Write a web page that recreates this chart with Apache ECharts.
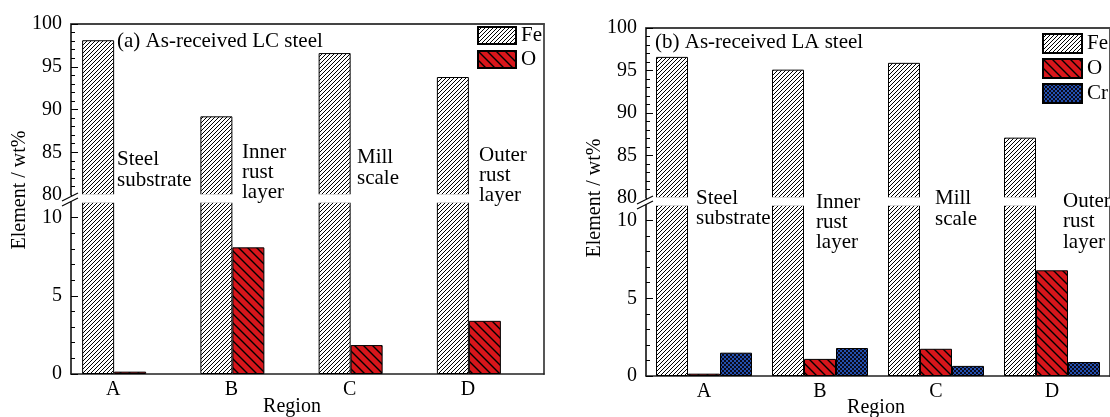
<!DOCTYPE html>
<html><head><meta charset="utf-8">
<script src="https://cdn.jsdelivr.net/npm/echarts@6/dist/echarts.min.js"></script>
<style>html,body{margin:0;padding:0;background:#fff}#c{width:1110px;height:417px}</style>
</head><body><div id="c"></div>
<script>
// ---- data ----
const regions = ['A', 'B', 'C', 'D'];
const lcFe = [98.1, 89.2, 96.6, 93.8];
const lcO  = [0.15, 8.1, 1.85, 3.4];
const lcCr = [null, null, null, null]; // Cr not present in LC steel
const laFe = [96.6, 95.1, 95.9, 87.1];
const laO  = [0.15, 1.1, 1.75, 6.8];
const laCr = [1.5, 1.8, 0.65, 0.9];
const upperMajorTicks = [80, 85, 90, 95, 100];
const upperMinorTicks = [81, 82, 83, 84, 86, 87, 88, 89, 91, 92, 93, 94, 96, 97, 98, 99];
const lowerMajorTicks = [0, 5, 10];
const lowerMinorTicks = [1, 2, 3, 4, 6, 7, 8, 9];
const lcNotes = [['Steel', 'substrate'], ['Inner', 'rust', 'layer'], ['Mill', 'scale'], ['Outer', 'rust', 'layer']];
const laNotes = lcNotes;
const breakLow = 11, breakHigh = 80;

// ---- patterns ----
function tile(w, h, draw) { const c = document.createElement('canvas'); c.width = w; c.height = h; draw(c.getContext('2d')); return { image: c, repeat: 'repeat' }; }
const fePat = tile(4, 4, g => {
  g.fillStyle = '#fff'; g.fillRect(0, 0, 4, 4);
  g.strokeStyle = '#000'; g.lineWidth = 1.0;
  g.beginPath(); g.moveTo(-1, 5); g.lineTo(5, -1); g.moveTo(-1, 1); g.lineTo(1, -1); g.moveTo(3, 5); g.lineTo(5, 3); g.stroke();
});
const oPat = tile(9, 9, g => {
  g.fillStyle = '#d8161b'; g.fillRect(0, 0, 9, 9);
  g.strokeStyle = '#000'; g.lineWidth = 1.4;
  g.beginPath(); g.moveTo(-1, -1); g.lineTo(10, 10); g.moveTo(-1, 8); g.lineTo(1, 10); g.moveTo(8, -1); g.lineTo(10, 1); g.stroke();
});
const crPat = tile(4, 4, g => {
  g.fillStyle = '#2350b0'; g.fillRect(0, 0, 4, 4);
  g.fillStyle = '#0a0a1a'; g.fillRect(0, 0, 2, 2); g.fillRect(2, 2, 2, 2);
});

const FONT = 'Liberation Serif';
const upper = arr => arr.map(v => (v != null && v > breakHigh) ? v : null);

function yAxes(grid, min, max, major, minor) {
  return [
    { gridIndex: grid, type: 'value', min, max, position: 'left',
      axisLine: { show: true, onZero: false, lineStyle: { color: '#000', width: 1.5 } },
      axisTick: { show: true, inside: true, length: 7, customValues: major, lineStyle: { color: '#000', width: 1 } },
      axisLabel: { customValues: major, margin: 9, color: '#000', fontSize: 20, fontFamily: FONT },
      splitLine: { show: false } },
    { gridIndex: grid, type: 'value', min, max, position: 'left', offset: 0,
      axisLine: { show: false, onZero: false },
      axisTick: { show: true, inside: true, length: 4, customValues: minor, lineStyle: { color: '#000', width: 1 } },
      axisLabel: { show: false }, splitLine: { show: false } }
  ];
}
function frameAxes(grid) {
  return {
    x: { gridIndex: grid, type: 'value', min: 0, max: 1, position: 'top',
      axisLine: { show: true, onZero: false, lineStyle: { color: '#444', width: 1.8 } },
      axisTick: { show: false }, axisLabel: { show: false }, splitLine: { show: false } },
    y: { gridIndex: grid, type: 'value', min: 0, max: 1, position: 'right',
      axisLine: { show: true, onZero: false, lineStyle: { color: '#444', width: 1.8 } },
      axisTick: { show: false }, axisLabel: { show: false }, splitLine: { show: false } }
  };
}
function catAxis(grid, showLabels, shift) {
  return { gridIndex: grid, type: 'category', data: regions, show: showLabels, position: 'bottom',
    axisLine: { show: true, onZero: false, lineStyle: { color: '#222', width: 1.5 } },
    axisTick: { show: false },
    axisLabel: { margin: 6, color: '#000', fontSize: 20, fontFamily: FONT,
      formatter: v => '{s|' + v + '}',
      rich: { s: { padding: [0, shift, 0, 0], color: '#000', fontSize: 20, fontFamily: FONT } } } };
}
function bars(name, pat, x, y, data, bw) {
  return { type: 'bar', name, xAxisIndex: x, yAxisIndex: y, data, barWidth: bw, barGap: '0%',
    itemStyle: { color: pat, borderColor: '#000', borderWidth: 1 }, silent: true, animation: false };
}

const fa = frameAxes(2), fb = frameAxes(5);
const xAxis = [catAxis(0, false, 0), catAxis(1, true, 34), fa.x, catAxis(3, false, 0), catAxis(4, true, 0), fb.x];
const yAxis = [
  ...yAxes(0, breakHigh, 100, upperMajorTicks, upperMinorTicks),  // 0,1
  ...yAxes(1, 0, breakLow, lowerMajorTicks, lowerMinorTicks),     // 2,3
  fa.y,                                                          // 4
  ...yAxes(3, breakHigh, 100, upperMajorTicks, upperMinorTicks),  // 5,6
  ...yAxes(4, 0, breakLow, lowerMajorTicks, lowerMinorTicks),     // 7,8
  fb.y                                                           // 9
];
const series = [
  bars('Fe', fePat, 0, 0, upper(lcFe), 32), bars('O', oPat, 0, 0, upper(lcO), 32), bars('Cr', crPat, 0, 0, upper(lcCr), 32),
  bars('Fe', fePat, 1, 2, lcFe, 32), bars('O', oPat, 1, 2, lcO, 32), bars('Cr', crPat, 1, 2, lcCr, 32),
  bars('Fe', fePat, 3, 5, upper(laFe), 32), bars('O', oPat, 3, 5, upper(laO), 32), bars('Cr', crPat, 3, 5, upper(laCr), 32),
  bars('Fe', fePat, 4, 7, laFe, 32), bars('O', oPat, 4, 7, laO, 32), bars('Cr', crPat, 4, 7, laCr, 32)
];

function txt(x, y, text, opts) {
  return Object.assign({ type: 'text', x, y, silent: true, z: 20,
    style: Object.assign({ text, fill: '#000', font: '21px "' + FONT + '"', fontSize: 21, fontFamily: FONT,
      align: 'left', textAlign: 'left', verticalAlign: 'middle', textVerticalAlign: 'middle' }, opts || {}) });
}
function note(x, top, lines, lh) {
  return txt(x, top, lines.join('\n'), { verticalAlign: 'top', textVerticalAlign: 'top', lineHeight: lh });
}
function slash(x1, y1, x2, y2) {
  return { type: 'line', silent: true, z: 21, shape: { x1, y1, x2, y2 }, style: { stroke: '#000', lineWidth: 1.2 } };
}
function gapCover(x, y, w, h) {
  return { type: 'rect', silent: true, z: 15, shape: { x, y, width: w, height: h }, style: { fill: '#fff' } };
}
const graphic = [
  gapCover(72, 194.2, 471, 8.6),
  gapCover(647, 197.2, 473, 8.6),
  txt(117, 41, '(a) As-received LC steel'),
  txt(655, 42, '(b) As-received LA steel'),
  note(117, 148.5, lcNotes[0], 21), note(242, 142, lcNotes[1], 20), note(357, 147, lcNotes[2], 21), note(479, 145, lcNotes[3], 20),
  note(696, 188, laNotes[0], 20.5), note(816, 192, laNotes[1], 20), note(935, 188, laNotes[2], 21), note(1063, 191, laNotes[3], 20.5),
  txt(292, 407, 'Region', { align: 'center', textAlign: 'center', fontSize: 20, font: '20px "' + FONT + '"' }),
  txt(876, 408, 'Region', { align: 'center', textAlign: 'center', fontSize: 20, font: '20px "' + FONT + '"' }),
  Object.assign(txt(20, 190, 'Element / wt%', { align: 'center', textAlign: 'center', fontSize: 20, font: '20px "' + FONT + '"' }), { rotation: Math.PI / 2 }),
  Object.assign(txt(595, 198, 'Element / wt%', { align: 'center', textAlign: 'center', fontSize: 20, font: '20px "' + FONT + '"' }), { rotation: Math.PI / 2 }),
  slash(62, 201, 78, 193), slash(62, 206, 78, 198),
  slash(637, 204, 653, 196), slash(637, 209, 653, 201)
];

const legendBase = { orient: 'vertical', icon: 'rect', padding: 0, selectedMode: false,
  textStyle: { color: '#000', fontSize: 21, fontFamily: FONT, lineHeight: 21 } };

const chart = echarts.init(document.getElementById('c'), null, { renderer: 'canvas' });
chart.setOption({
  animation: false,
  backgroundColor: '#fff',
  grid: [
    { left: 71, top: 24, width: 473, height: 171 },
    { left: 71, top: 202, width: 473, height: 172 },
    { left: 71, top: 24, width: 473, height: 350 },
    { left: 646, top: 28, width: 475, height: 170 },
    { left: 646, top: 205, width: 475, height: 171 },
    { left: 646, top: 28, width: 475, height: 348 }
  ],
  xAxis, yAxis, series, graphic,
  legend: [
    Object.assign({}, legendBase, { data: ['Fe', 'O'], left: 477, top: 25, itemWidth: 38, itemHeight: 17, itemGap: 3 }),
    Object.assign({}, legendBase, { data: ['Fe', 'O', 'Cr'], left: 1042, top: 33, itemWidth: 39, itemHeight: 19, itemGap: 4 })
  ]
});
</script></body></html>
